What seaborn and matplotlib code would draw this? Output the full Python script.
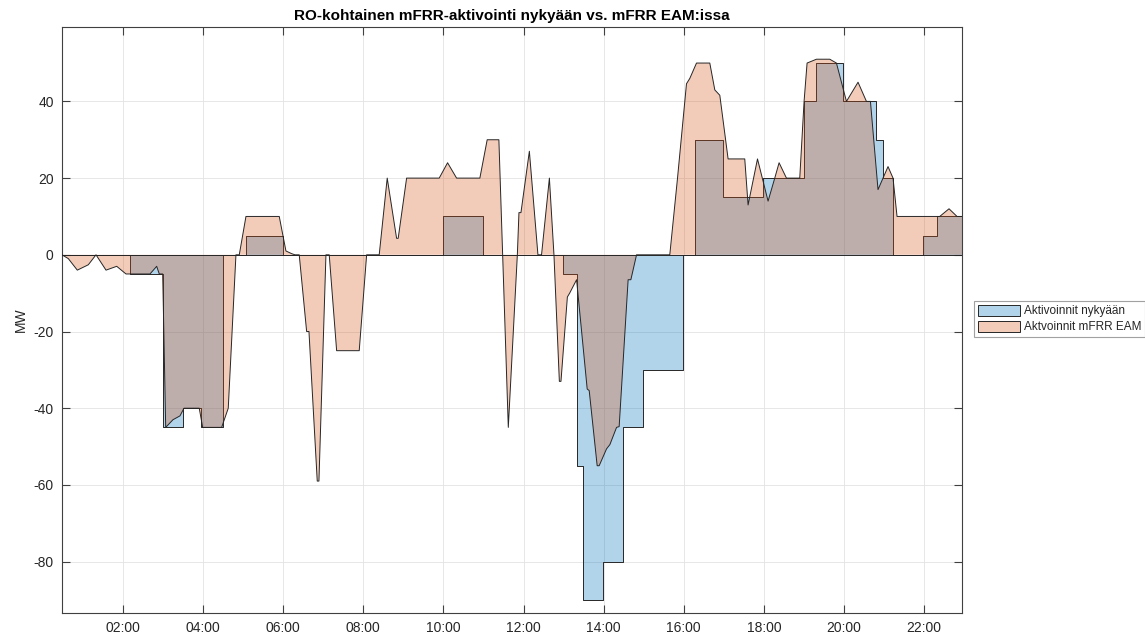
import numpy as np
import matplotlib
matplotlib.use("Agg")
import matplotlib.pyplot as plt
from matplotlib.patches import Patch
import seaborn as sns

# Time in hours (decimal), values in MW.
# Current model: step series -> change points and the value from that point on
now_h = [0.477, 2.175, 2.99, 3.505, 3.96, 4.488, 5.07, 5.986, 9.995, 10.978,
         12.99, 13.324, 13.474, 13.988, 14.487, 14.986, 15.985, 16.277, 16.983,
         17.982, 18.997, 19.314, 19.978, 20.812, 20.977, 21.226, 21.975, 22.324]
now_mw = [0, -5, -45, -40, -45, 0, 5, 0, 10, 0,
          -5, -55, -90, -80, -45, -30, 0, 30, 15,
          20, 40, 50, 40, 30, 20, 0, 5, 10]
now_end = 22.948

# mFRR EAM: piecewise linear series
eam_h = [0.477, 0.635, 0.859, 1.134, 1.326, 1.576, 1.843, 2.075, 2.674, 2.841,
         2.906, 2.991, 3.066, 3.248, 3.423, 3.523, 3.904, 3.989, 4.463, 4.628,
         4.820, 4.903, 5.070, 5.901, 6.068, 6.211, 6.293, 6.400, 6.585, 6.643,
         6.850, 6.892, 7.067, 7.149, 7.334, 7.898, 8.083, 8.397, 8.597, 8.831,
         8.871, 9.081, 9.895, 10.104, 10.329, 10.910, 11.093, 11.385, 11.620, 11.846,
         11.886, 11.936, 12.146, 12.36, 12.45, 12.646, 12.760, 12.895, 12.935, 13.095,
         13.152, 13.325, 13.590, 13.640, 13.839, 13.889, 14.073, 14.156, 14.323, 14.388,
         14.612, 14.680, 14.822, 15.652, 15.845, 16.069, 16.152, 16.319, 16.651, 16.776,
         16.901, 17.108, 17.524, 17.607, 17.842, 18.106, 18.273, 18.381, 18.565, 18.897,
         19.005, 19.080, 19.314, 19.646, 19.813, 20.063, 20.352, 20.562, 20.662, 20.851,
         21.101, 21.226, 21.326, 22.392, 22.624, 22.824, 22.948]
eam_mw = [0, -1, -4, -2.6, 0, -4, -3, -5, -5, -3,
          -5, -5, -45, -43, -42, -40, -40, -45, -45, -40,
          0, 0, 10, 10, 1, 0.3, 0, 0, -20, -20,
          -59, -59, 0, 0, -25, -25, 0, 0, 20, 4.3,
          4.3, 20, 20, 24, 20, 20, 30, 30, -45, 0,
          11, 11, 27, 0, 0, 20, 0, -33, -33, -11,
          -10, -6.5, -35, -35.4, -55, -55, -50.6, -49.5, -45, -44.8,
          -6.5, -6.5, 0, 0, 20, 44.6, 46, 50, 50, 43,
          41.6, 25, 25, 13, 25, 14, 20, 24, 20, 20,
          40, 50, 51, 51, 50, 40, 45, 40, 40, 17,
          23, 20, 10, 10, 12, 10, 10]

x_ticks = list(range(2, 23, 2))
y_ticks = [-80, -60, -40, -20, 0, 20, 40]

title = "RO-kohtainen mFRR-aktivointi nykyään vs. mFRR EAM:issa"
labels = ["Aktivoinnit nykyään", "Aktvoinnit mFRR EAM"]

BLUE = "#0072BD"
ORANGE = "#D95319"
ALPHA = 0.3
EDGE = "#262626"
AXC = "#404040"

sns.set_theme(style="whitegrid")
plt.rcParams["font.family"] = ["Liberation Sans", "DejaVu Sans"]
plt.rcParams["axes.unicode_minus"] = False

# stairs for the current model
sx, sy = [], []
ends = now_h[1:] + [now_end]
for h0, h1, v in zip(now_h, ends, now_mw):
    sx += [h0, h1]
    sy += [v, v]
sx = np.array(sx)
sy = np.array(sy)

fig = plt.figure(figsize=(11.45, 6.37), dpi=100)
ax = fig.add_axes([62 / 1145, 1 - 613 / 637, 900 / 1145, 586 / 637])
ax.set_facecolor("white")

ax.fill_between(sx, sy, 0, facecolor=matplotlib.colors.to_rgba(BLUE, ALPHA),
                edgecolor="none", zorder=2)
sns.lineplot(x=sx, y=sy, ax=ax, color=EDGE, lw=0.7, sort=False,
             estimator=None, zorder=3)

ax.fill_between(eam_h, eam_mw, 0, facecolor=matplotlib.colors.to_rgba(ORANGE, ALPHA),
                edgecolor="none", zorder=4)
sns.lineplot(x=eam_h, y=eam_mw, ax=ax, color=EDGE, lw=0.7, sort=False,
             estimator=None, zorder=5)
ax.axhline(0, color=EDGE, lw=0.7, zorder=5)

ax.set_xlim(0.477, 22.948)
ax.set_ylim(-93.4, 59.4)
ax.set_xticks(x_ticks)
ax.set_xticklabels([f"{h:02d}:00" for h in x_ticks])
ax.set_yticks(y_ticks)
ax.set_yticklabels([str(v) for v in y_ticks])

ax.grid(True, color="#e3e3e3", lw=0.6)
ax.set_axisbelow(True)
for s in ax.spines.values():
    s.set_visible(True)
    s.set_color(AXC)
    s.set_linewidth(0.8)
ax.tick_params(direction="in", length=6, width=0.8, color=AXC, labelcolor="#262626",
               labelsize=10, top=True, right=True, bottom=True, left=True,
               labeltop=False, labelright=False, pad=6)

ax.set_ylabel("MW", fontsize=10, color="#262626", labelpad=4)
ax.set_xlabel("")
ax.set_title(title, fontsize=11, fontweight="bold", color="black", pad=5)

handles = [Patch(facecolor=matplotlib.colors.to_rgba(BLUE, ALPHA), edgecolor=EDGE, lw=0.7),
           Patch(facecolor=matplotlib.colors.to_rgba(ORANGE, ALPHA), edgecolor=EDGE, lw=0.7)]
leg = fig.legend(handles, labels, loc="upper left",
                 bbox_to_anchor=(974 / 1145, 1 - 301 / 637),
                 bbox_transform=fig.transFigure, fontsize=8.5, frameon=True,
                 fancybox=False, borderpad=0.3, handlelength=3.6, handleheight=1.1,
                 handletextpad=0.3, labelspacing=0.3, borderaxespad=0)
leg.get_frame().set_edgecolor("#8a8a8a")
leg.get_frame().set_linewidth(0.8)

fig.savefig("out.png", dpi=100)
plt.close(fig)
